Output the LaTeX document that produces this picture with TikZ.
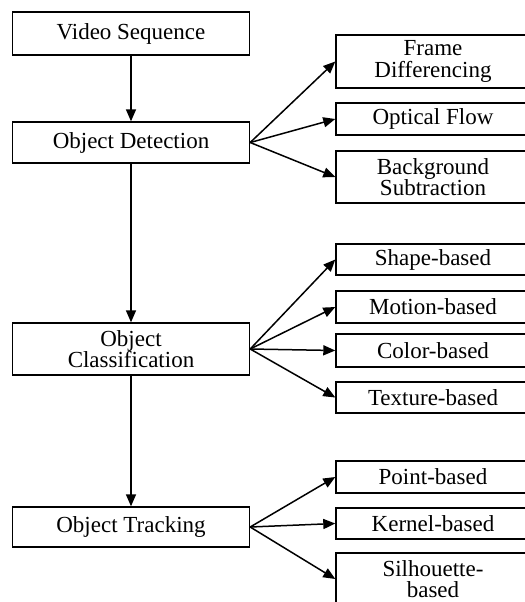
\documentclass[tikz,border=0pt]{standalone}
\usepackage{fontspec}
\setmainfont{Liberation Serif}
\usetikzlibrary{arrows.meta}
\tikzset{
  stagebox/.style={draw, line width=0.7pt, inner sep=0pt, minimum width=118.5pt, align=center},
  methodbox/.style={draw, line width=0.7pt, inner sep=0pt, minimum width=97pt, align=center},
  flowarrow/.style={line width=0.75pt, -{Triangle[length=6pt, width=5pt]}}
}
\begin{document}
\begin{tikzpicture}[x=0.5pt, y=-0.5pt, every node/.style={font=\fontsize{11.5}{10.8}\selectfont}]
\useasboundingbox (0,0) rectangle (525,602);
\clip (0,0) rectangle (525,602);
% main stages
\node[stagebox, minimum height=21.5pt] (vidseq) at (131,33.5) {Video Sequence};
\node[stagebox, minimum height=20.5pt] (objdet) at (131,142.5) {Object Detection};
\node[stagebox, minimum height=26pt] (objcls) at (131,349) {Object\\Classification};
\node[stagebox, minimum height=20pt] (objtrk) at (131,527) {Object Tracking};
% detection methods
\node[methodbox, minimum height=26.5pt] (frmdif) at (433,61.5) {Frame\\Differencing};
\node[methodbox, minimum height=16pt] (optflw) at (433,119) {Optical Flow};
\node[methodbox, minimum height=26pt] (bgsub) at (433,177) {Background\\Subtraction};
% classification methods
\node[methodbox, minimum height=15.5pt] (shpbsd) at (433,259.5) {Shape-based};
\node[methodbox, minimum height=16pt] (motbsd) at (433,307) {Motion-based};
\node[methodbox, minimum height=16.5pt] (colbsd) at (433,350.5) {Color-based};
\node[methodbox, minimum height=15.5pt] (texbsd) at (433,397.5) {Texture-based};
% tracking methods
\node[methodbox, minimum height=16pt] (pntbsd) at (433,477) {Point-based};
\node[methodbox, minimum height=15.5pt] (kerbsd) at (433,523.5) {Kernel-based};
\node[methodbox, minimum height=26pt] (silbsd) at (433,579) {Silhouette-\\based};
% connectors
\draw[flowarrow] (vidseq) -- (objdet);
\draw[flowarrow] (objdet) -- (objcls);
\draw[flowarrow] (objcls) -- (objtrk);
\foreach \m in {frmdif,optflw,bgsub}
  \draw[flowarrow] (objdet.east) -- (\m.west);
\foreach \m in {shpbsd,motbsd,colbsd,texbsd}
  \draw[flowarrow] (objcls.east) -- (\m.west);
\foreach \m in {pntbsd,kerbsd,silbsd}
  \draw[flowarrow] (objtrk.east) -- (\m.west);
\end{tikzpicture}
\end{document}
